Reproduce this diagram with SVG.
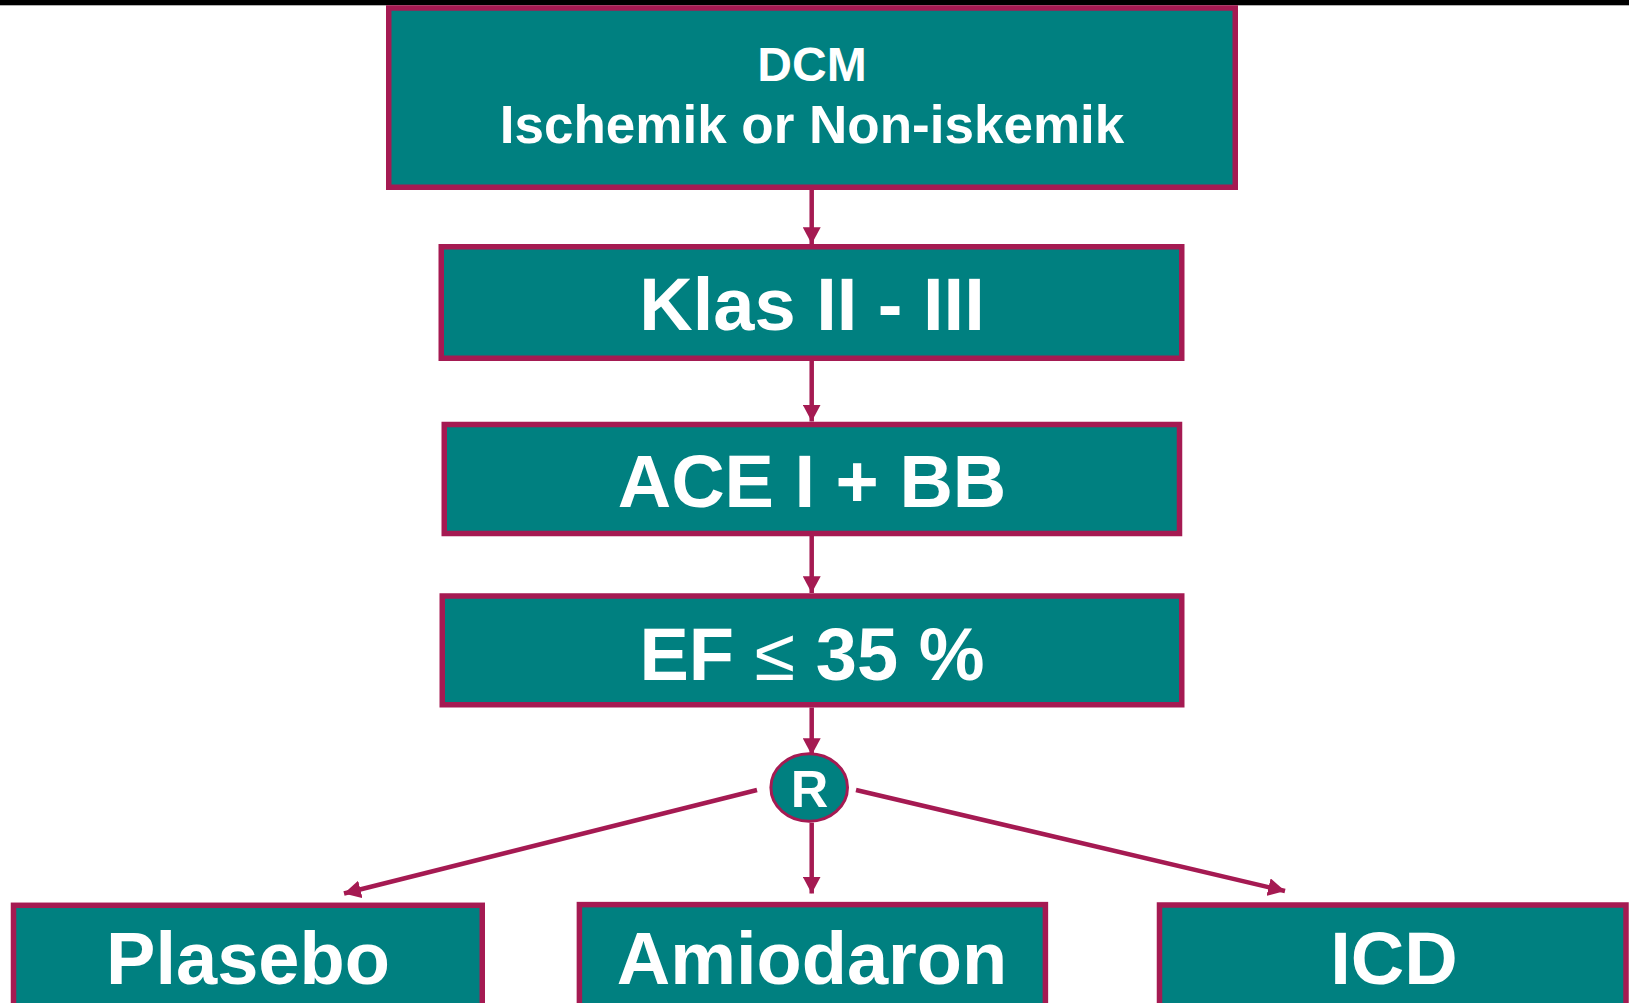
<svg xmlns="http://www.w3.org/2000/svg" width="1629" height="1003" viewBox="0 0 1629 1003">
<style>
.box{fill:#008080;stroke:#A51A52;stroke-width:5.5}
.t{fill:#ffffff;font-family:"Liberation Sans",Arial,sans-serif;font-weight:bold;text-anchor:middle}
.c{stroke:#A51A52;stroke-width:4.5;fill:none}
</style>
<defs>
<marker id="ah" markerUnits="userSpaceOnUse" markerWidth="18" markerHeight="18" viewBox="0 0 16 16" refX="15" refY="8" orient="auto">
<path d="M0,0 L15,8 L0,16 Z" fill="#A51A52"/>
</marker>
</defs>
<rect x="0" y="0" width="1629" height="5.3" fill="#000000"/>
<g id="connectors">
<line class="c" x1="811.7" y1="190" x2="811.7" y2="244" marker-end="url(#ah)"/>
<line class="c" x1="811.7" y1="361" x2="811.7" y2="421.5" marker-end="url(#ah)"/>
<line class="c" x1="811.7" y1="536" x2="811.7" y2="593" marker-end="url(#ah)"/>
<line class="c" x1="811.7" y1="707.5" x2="811.7" y2="755" marker-end="url(#ah)"/>
<line class="c" x1="757" y1="790" x2="344" y2="893.5" marker-end="url(#ah)"/>
<line class="c" x1="811.7" y1="822.7" x2="811.7" y2="893.5" marker-end="url(#ah)"/>
<line class="c" x1="856" y1="790" x2="1285" y2="891" marker-end="url(#ah)"/>
</g>
<g id="node-dcm">
<rect class="box" x="388.75" y="8" width="846.5" height="179.25"/>
<text class="t" x="812" y="81" font-size="48">DCM</text>
<text class="t" x="812" y="143" font-size="53">Ischemik or Non-iskemik</text>
</g>
<g id="node-klas">
<rect class="box" x="441.25" y="246.75" width="740.5" height="111.5"/>
<text class="t" x="812" y="330" font-size="74">Klas II - III</text>
</g>
<g id="node-ace">
<rect class="box" x="444.25" y="424.5" width="735.25" height="109"/>
<text class="t" x="812" y="507" font-size="74">ACE I + BB</text>
</g>
<g id="node-ef">
<rect class="box" x="442.25" y="596" width="739.5" height="108.75"/>
<text class="t" x="812" y="680" font-size="74">EF <tspan font-weight="normal">≤</tspan> 35 %</text>
</g>
<g id="node-r">
<ellipse cx="809.2" cy="787.5" rx="38.3" ry="33.7" fill="#008080" stroke="#A51A52" stroke-width="3"/>
<text class="t" x="809.5" y="807" font-size="52">R</text>
</g>
<g id="node-plasebo">
<rect class="box" x="13.5" y="905.3" width="468.75" height="110"/>
<text class="t" x="248" y="984" font-size="74">Plasebo</text>
</g>
<g id="node-amiodaron">
<rect class="box" x="579.4" y="904.6" width="466" height="110"/>
<text class="t" x="812" y="984" font-size="74">Amiodaron</text>
</g>
<g id="node-icd">
<rect class="box" x="1159.5" y="905" width="466.5" height="110"/>
<text class="t" x="1394" y="984" font-size="74">ICD</text>
</g>
</svg>
